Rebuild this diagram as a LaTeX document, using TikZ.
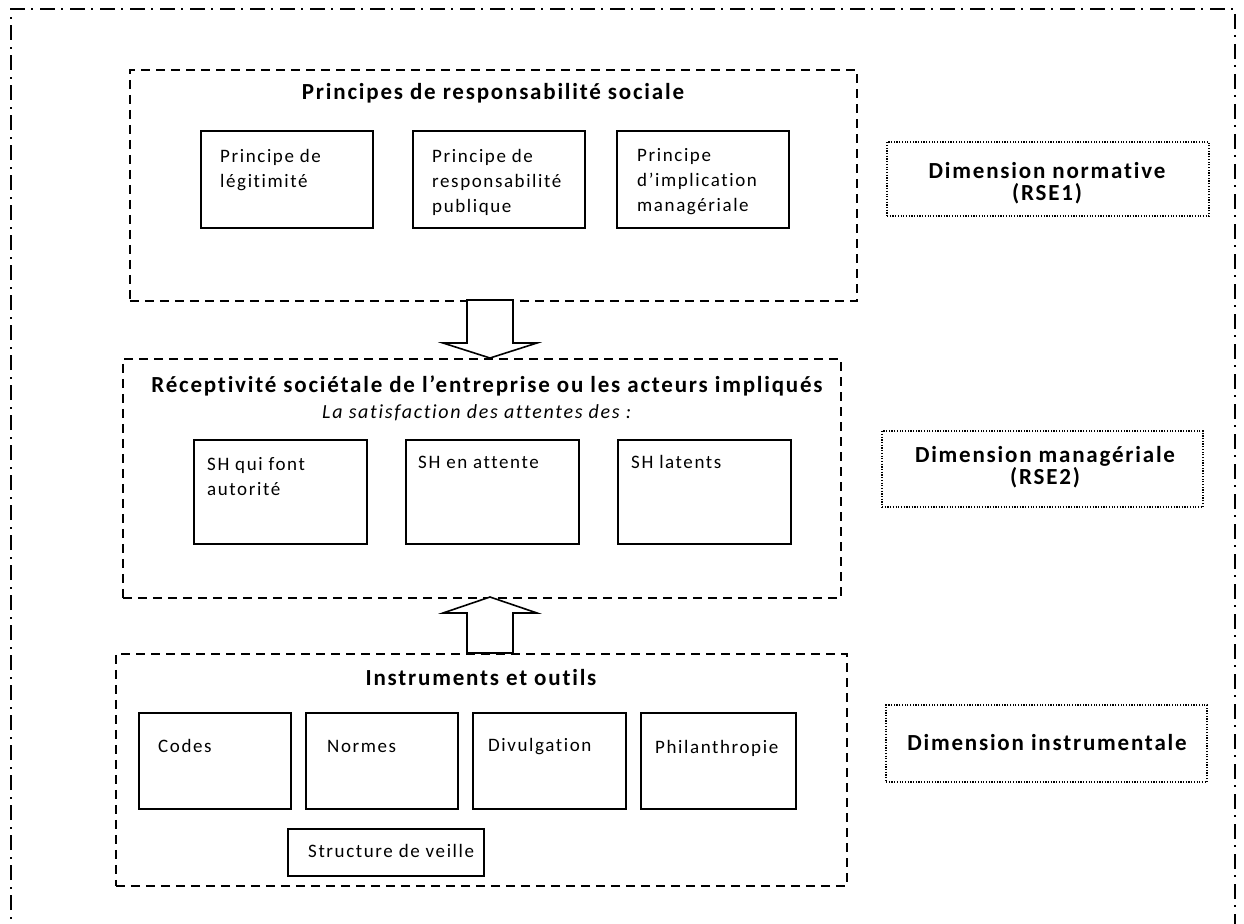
\documentclass[tikz,border=0pt]{standalone}
\usepackage{fontspec}
\setmainfont{Carlito}[LetterSpace=8.4, Ligatures=NoCommon,
  BoldFeatures={LetterSpace=7.8}]
\newcommand\mlines[1]{\begin{tabular}[t]{@{}l@{}}#1\end{tabular}}
\begin{document}
\begin{tikzpicture}[x=1pt,y=-1pt,
  outer/.style={line width=1.7pt, dash pattern=on 15pt off 6pt on 2pt off 7pt},
  group/.style={draw, line width=1.7pt, dash pattern=on 9pt off 6pt, rectangle, inner sep=0pt, anchor=north west},
  item/.style={draw, line width=1.9pt, rectangle, inner sep=0pt, anchor=north west},
  dimbox/.style={draw, line width=1.4pt, dash pattern=on 1.2pt off 1.5pt, rectangle, inner sep=0pt},
  dimtxt/.style={inner sep=0pt, align=center, font=\fontsize{23}{22.5}\selectfont\bfseries},
  txt/.style={anchor=base west, inner sep=0pt, font=\fontsize{19}{25}\selectfont},
  ttl/.style={anchor=base, inner sep=0pt, font=\fontsize{23}{23}\selectfont\bfseries},
  sub/.style={anchor=base west, inner sep=0pt, font=\fontsize{20}{25}\selectfont\itshape},
  blk/.style={draw, line width=1.6pt, fill=white, line join=miter}
]
\useasboundingbox (0,0) rectangle (1244,923);
% outer frame
\draw[outer] (11,940) -- (11,9) -- (1235,9) -- (1235,940);

% top group
\node[group, minimum width=727pt, minimum height=231pt] (top) at (129,69) {};
\node[ttl] (toptitle) at (493,100) {Principes de responsabilité sociale};
\node[item, minimum width=172pt, minimum height=97pt] (p1) at (200,130) {};
\node[item, minimum width=172pt, minimum height=97pt] (p2) at (412,130) {};
\node[item, minimum width=172pt, minimum height=97pt] (p3) at (616,130) {};
\node[txt] (p1t) at (220,162) {\mlines{Principe de\\légitimité}};
\node[txt] (p2t) at (432,162) {\mlines{Principe de\\responsabilité\\publique}};
\node[txt] (p3t) at (637,161) {\mlines{Principe\\d’implication\\managériale}};

% middle group
\node[group, minimum width=718pt, minimum height=239pt] (mid) at (122,358) {};
\node[ttl] (midtitle) at (487,392) {Réceptivité sociétale de l’entreprise ou les acteurs impliqués};
\node[sub] (midsub) at (322,418) {La satisfaction des attentes des :};
\node[item, minimum width=173pt, minimum height=104pt] (s1) at (193,439) {};
\node[item, minimum width=173pt, minimum height=104pt] (s2) at (405,439) {};
\node[item, minimum width=173pt, minimum height=104pt] (s3) at (617,439) {};
\node[txt] (s1t) at (207,470) {\mlines{SH qui font\\autorité}};
\node[txt] (s2t) at (418,468) {SH en attente};
\node[txt] (s3t) at (631,468) {SH latents};

% bottom group
\node[group, minimum width=731pt, minimum height=232pt] (bot) at (115,653) {};
\node[ttl] (bottitle) at (481,685) {Instruments et outils};
\node[item, minimum width=152pt, minimum height=96pt] (i1) at (138,712) {};
\node[item, minimum width=152pt, minimum height=96pt] (i2) at (305,712) {};
\node[item, minimum width=153pt, minimum height=96pt] (i3) at (472,712) {};
\node[item, minimum width=155pt, minimum height=96pt] (i4) at (640,712) {};
\node[item, minimum width=196pt, minimum height=47pt] (i5) at (287,828) {};
\node[txt] (i1t) at (158,752) {Codes};
\node[txt] (i2t) at (327,752) {Normes};
\node[txt] (i3t) at (488,751) {Divulgation};
\node[txt] (i4t) at (655,753) {Philanthropie};
\node[txt] (i5t) at (308,857) {Structure de veille};

% block arrows
\draw[blk] (467,300) -- (467,343) -- (443,343) -- (490,358) -- (537,343) -- (513,343) -- (513,300) -- cycle;
\draw[blk] (467,653) -- (467,613) -- (443,613) -- (490,597) -- (537,613) -- (513,613) -- (513,653) -- cycle;

% dimension boxes
\node[dimbox, minimum width=322pt, minimum height=74pt] (d1) at (1048,179) {};
\node[dimbox, minimum width=321pt, minimum height=76pt] (d2) at (1042.5,469) {};
\node[dimbox, minimum width=321pt, minimum height=77pt] (d3) at (1046.5,743.5) {};
\node[dimtxt] (d1t) at (1047,183) {Dimension normative\\(RSE1)};
\node[dimtxt] (d2t) at (1045,467) {Dimension managériale\\(RSE2)};
\node[dimtxt] (d3t) at (1047,743) {Dimension instrumentale};
\end{tikzpicture}
\end{document}
